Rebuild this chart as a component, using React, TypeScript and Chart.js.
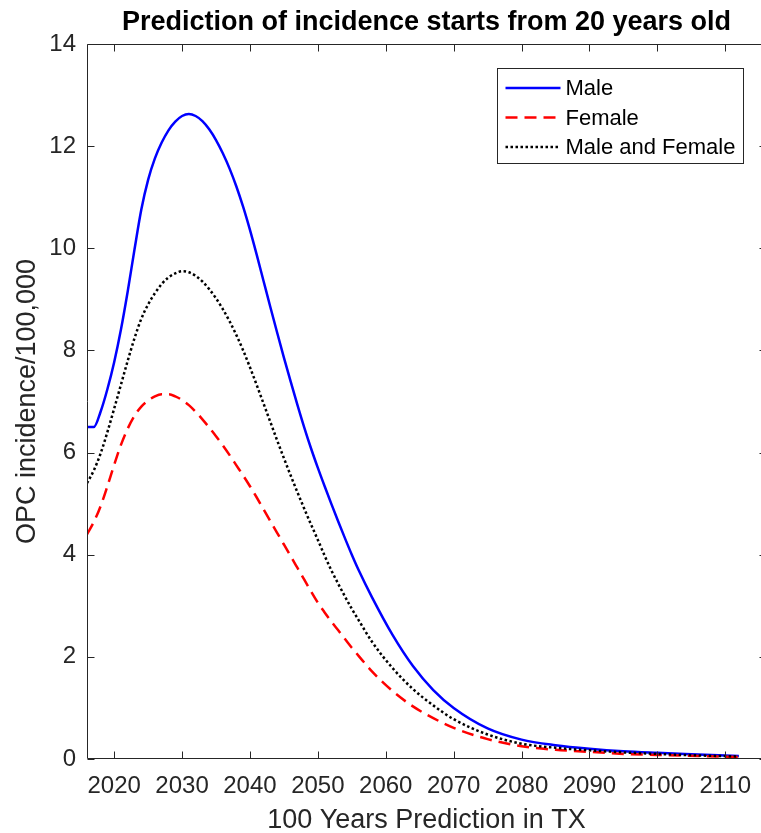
import React, { useEffect, useRef } from "react";
import { Chart, registerables } from "chart.js";
Chart.register(...registerables);

const titleText = "Prediction of incidence starts from 20 years old";
const xTitle = "100 Years Prediction in TX";
const yTitle = "OPC incidence/100,000";

const years = [
  2016, 2017, 2018, 2019, 2020, 2021, 2022, 2023, 2024, 2025,
  2026, 2027, 2028, 2029, 2030, 2031, 2032, 2033, 2034, 2035,
  2036, 2037, 2038, 2039, 2040, 2041, 2042, 2043, 2044, 2045,
  2046, 2047, 2048, 2049, 2050, 2051, 2052, 2053, 2054, 2055, 2056,
  2058, 2061, 2064, 2067, 2070, 2075, 2080, 2085, 2090, 2095, 2100, 2106, 2112,
];
const male = [
  6.5, 6.5, 6.8, 7.24, 7.77, 8.41, 9.16, 9.98, 10.76, 11.34,
  11.76, 12.07, 12.31, 12.48, 12.59, 12.63, 12.59, 12.49, 12.33, 12.12,
  11.86, 11.56, 11.21, 10.81, 10.36, 9.87, 9.36, 8.85, 8.35, 7.86,
  7.39, 6.93, 6.49, 6.08, 5.7, 5.34, 4.99, 4.65, 4.32, 4.0, 3.7,
  3.16, 2.43, 1.82, 1.35, 1.0, 0.6, 0.38, 0.27, 0.2, 0.15, 0.12, 0.09, 0.06,
];
const female = [
  4.4, 4.64, 4.95, 5.34, 5.76, 6.15, 6.47, 6.72, 6.9, 7.02,
  7.1, 7.14, 7.14, 7.1, 7.03, 6.93, 6.8, 6.65, 6.49, 6.32,
  6.14, 5.95, 5.75, 5.55, 5.34, 5.12, 4.89, 4.66, 4.43, 4.2,
  3.97, 3.74, 3.51, 3.28, 3.06, 2.87, 2.69, 2.52, 2.35, 2.18, 2.02,
  1.71, 1.33, 1.03, 0.8, 0.61, 0.39, 0.25, 0.18, 0.14, 0.1, 0.08, 0.06, 0.04,
];
const both = [
  5.4, 5.65, 5.98, 6.4, 6.86, 7.33, 7.8, 8.24, 8.62, 8.9,
  9.12, 9.3, 9.43, 9.51, 9.55, 9.53, 9.46, 9.35, 9.2, 9.02,
  8.81, 8.57, 8.3, 8.0, 7.67, 7.32, 6.96, 6.6, 6.24, 5.89,
  5.55, 5.22, 4.9, 4.59, 4.29, 3.98, 3.69, 3.43, 3.18, 2.94, 2.72,
  2.29, 1.78, 1.37, 1.05, 0.78, 0.48, 0.3, 0.22, 0.17, 0.13, 0.1, 0.07, 0.05,
];

const xTicks = [2020, 2030, 2040, 2050, 2060, 2070, 2080, 2090, 2100, 2110];
const yTicks = [0, 2, 4, 6, 8, 10, 12, 14];

const W = 780;
const H = 833;
const FONT = "'Liberation Sans', Arial, Helvetica, sans-serif";
const AXIS = "#262626";

const matlabPlugin = {
  id: "matlabAxes",
  afterDatasetsDraw(chart: any) {
    const { ctx, chartArea: a, scales } = chart;
    const xs = scales.x;
    const ys = scales.y;
    const L = Math.round(a.left) + 0.5;
    const R = Math.round(a.right) + 0.5;
    const T = Math.round(a.top) + 0.5;
    const B = Math.round(a.bottom) - 0.5;
    ctx.save();
    ctx.strokeStyle = AXIS;
    ctx.lineWidth = 1;
    ctx.beginPath();
    ctx.moveTo(R, T); ctx.lineTo(L, T); ctx.lineTo(L, B); ctx.lineTo(R, B); ctx.lineTo(R, T);
    const tl = 7;
    xTicks.forEach((v) => {
      const px = Math.round(xs.getPixelForValue(v)) + 0.5;
      ctx.moveTo(px, B); ctx.lineTo(px, B - tl);
      ctx.moveTo(px, T); ctx.lineTo(px, T + tl);
    });
    yTicks.forEach((v) => {
      const py = Math.round(ys.getPixelForValue(v)) + 0.5;
      ctx.moveTo(L, py); ctx.lineTo(L + tl, py);
      ctx.moveTo(R, py); ctx.lineTo(R - tl, py);
    });
    ctx.stroke();

    // title
    ctx.fillStyle = "#000";
    ctx.font = `bold 27px ${FONT}`;
    ctx.textAlign = "center";
    ctx.textBaseline = "middle";
    ctx.fillText(titleText, (a.left + a.right) / 2, 23);

    // legend
    const lx = Math.round(a.right) - 268.5;
    const ly = Math.round(a.top) + 24.5;
    const lw = 246;
    const lh = 95;
    ctx.fillStyle = "#fff";
    ctx.fillRect(lx, ly, lw, lh);
    ctx.strokeStyle = AXIS;
    ctx.lineWidth = 1;
    ctx.strokeRect(lx, ly, lw, lh);
    ctx.font = `22px ${FONT}`;
    ctx.textAlign = "left";
    chart.data.datasets.forEach((ds: any, i: number) => {
      const y = ly + 19.5 + i * 29.5;
      ctx.save();
      ctx.strokeStyle = ds.borderColor;
      ctx.lineWidth = ds.borderWidth;
      ctx.setLineDash(ds.borderDash || []);
      ctx.beginPath();
      ctx.moveTo(lx + 8, y);
      ctx.lineTo(lx + 63, y);
      ctx.stroke();
      ctx.restore();
      ctx.fillStyle = "#000";
      ctx.fillText(ds.label, lx + 68, y + 1);
    });
    ctx.restore();
  },
};

const zeroPad = (s: any) => {
  s.paddingLeft = 0;
  s.paddingRight = 0;
  s.paddingTop = 0;
  s.paddingBottom = 0;
};

export default function App() {
  const ref = useRef<HTMLCanvasElement>(null);
  useEffect(() => {
    if (!ref.current) return;
    const mk = (vals: number[]) => years.map((x, i) => ({ x, y: vals[i] }));
    const chart = new Chart(ref.current, {
      type: "line",
      data: {
        datasets: [
          { label: "Male", data: mk(male), borderColor: "#0000ff", borderWidth: 2.5, pointRadius: 0, cubicInterpolationMode: "monotone", order: 2, fill: false },
          { label: "Female", data: mk(female), borderColor: "#ff0000", borderWidth: 2.5, borderDash: [12, 7], pointRadius: 0, cubicInterpolationMode: "monotone", order: 1, fill: false },
          { label: "Male and Female", data: mk(both), borderColor: "#000000", borderWidth: 2.5, borderDash: [2.5, 2.5], pointRadius: 0, cubicInterpolationMode: "monotone", order: 0, fill: false },
        ],
      } as any,
      options: {
        responsive: false,
        animation: false,
        devicePixelRatio: 1,
        layout: { padding: { left: 0, right: W - 766, top: 44, bottom: 0 } },
        plugins: { legend: { display: false }, title: { display: false }, tooltip: { enabled: false } },
        scales: {
          x: {
            type: "linear",
            min: 2016,
            max: 2116,
            grid: { display: false, drawTicks: false },
            border: { display: false },
            afterBuildTicks: (s: any) => { s.ticks = xTicks.map((v) => ({ value: v })); },
            afterFit: (s: any) => { s.height = H - 759; zeroPad(s); },
            ticks: { font: { family: FONT, size: 24 }, color: AXIS, padding: 13, maxRotation: 0, autoSkip: false, callback: (v: any) => String(v) },
            title: { display: true, text: xTitle, font: { family: FONT, size: 27 }, color: AXIS, padding: { top: 0, bottom: -4 } },
          },
          y: {
            type: "linear",
            min: 0,
            max: 14,
            grid: { display: false, drawTicks: false },
            border: { display: false },
            afterBuildTicks: (s: any) => { s.ticks = yTicks.map((v) => ({ value: v })); },
            afterFit: (s: any) => { s.width = 87; zeroPad(s); },
            ticks: { font: { family: FONT, size: 24 }, color: AXIS, padding: 11, autoSkip: false, callback: (v: any) => String(v) },
            title: { display: true, text: yTitle, font: { family: FONT, size: 27 }, color: AXIS, padding: { top: 11, bottom: 0 } },
          },
        },
      },
      plugins: [matlabPlugin],
    });
    return () => chart.destroy();
  }, []);
  return (
    <div style={{ position: "fixed", left: 0, top: 0, width: 761, height: H, overflow: "hidden", background: "#fff" }}>
      <canvas ref={ref} width={W} height={H} style={{ width: W, height: H, display: "block" }} />
    </div>
  );
}
